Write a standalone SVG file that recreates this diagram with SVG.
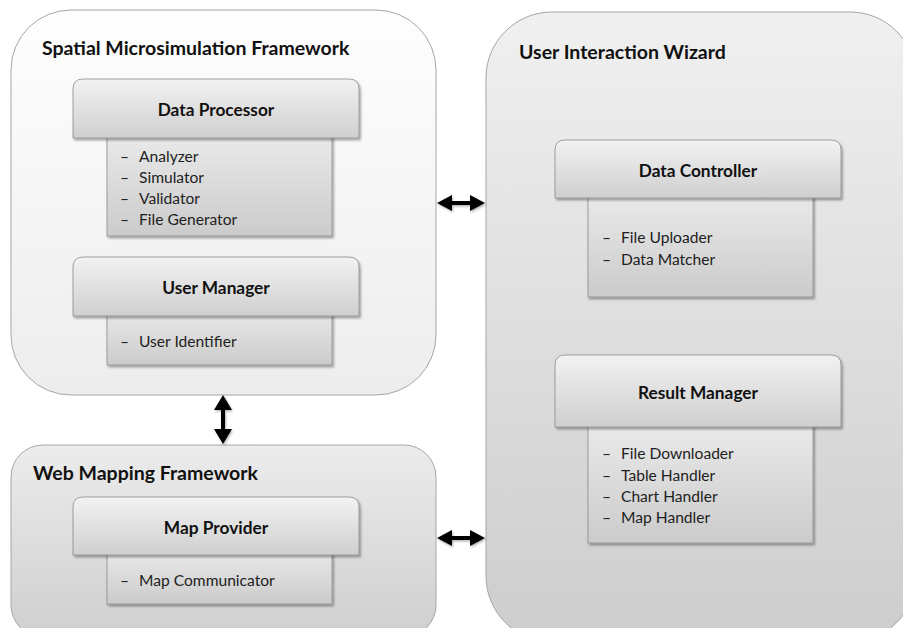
<svg xmlns="http://www.w3.org/2000/svg" width="903" height="628" viewBox="0 0 903 628">
  <defs>
    <linearGradient id="gLight" x1="0" y1="0" x2="0" y2="1">
      <stop offset="0" stop-color="#fefefe"/>
      <stop offset="1" stop-color="#ededed"/>
    </linearGradient>
    <linearGradient id="gMid" x1="0" y1="0" x2="0" y2="1">
      <stop offset="0" stop-color="#ececec"/>
      <stop offset="1" stop-color="#cfcfcf"/>
    </linearGradient>
    <linearGradient id="gTall" x1="0" y1="0" x2="0" y2="1">
      <stop offset="0" stop-color="#f0f0f0"/>
      <stop offset="1" stop-color="#cdcdcd"/>
    </linearGradient>
    <linearGradient id="gHead" x1="0" y1="0" x2="0" y2="1">
      <stop offset="0" stop-color="#f2f2f2"/>
      <stop offset="1" stop-color="#cfcfcf"/>
    </linearGradient>
    <linearGradient id="gBody" x1="0" y1="0" x2="0" y2="1">
      <stop offset="0" stop-color="#ebebeb"/>
      <stop offset="1" stop-color="#cbcbcb"/>
    </linearGradient>
    <filter id="shadow" x="-10%" y="-10%" width="120%" height="130%">
      <feDropShadow dx="1.5" dy="2" stdDeviation="1.2" flood-color="#000" flood-opacity="0.35"/>
    </filter>
    <filter id="arrowShadow" x="-30%" y="-30%" width="160%" height="160%">
      <feDropShadow dx="1" dy="1.5" stdDeviation="1" flood-color="#000" flood-opacity="0.3"/>
    </filter>
  </defs>
  <style>
    .frame { stroke: #a6a6a6; stroke-width: 1; }
    .head { fill: url(#gHead); stroke: #8c8c8c; stroke-width: 0.8; filter: url(#shadow); }
    .body { fill: url(#gBody); stroke: #8c8c8c; stroke-width: 0.8; filter: url(#shadow); }
    .title { font-family: Lato, "Liberation Sans", sans-serif; font-weight: bold; font-size: 19.5px; fill: #111; }
    .hname { font-family: Lato, "Liberation Sans", sans-serif; font-weight: bold; font-size: 17.3px; fill: #111; text-anchor: middle; }
    .item { font-family: Lato, "Liberation Sans", sans-serif; font-size: 15.6px; fill: #1e1e1e; }
    .arrow { fill: #000; filter: url(#arrowShadow); }
  </style>

  <rect width="903" height="628" fill="#ffffff"/>

  <!-- Spatial Microsimulation Framework -->
  <g id="spatial-framework">
    <rect class="frame" x="11" y="10" width="425" height="385" rx="60" fill="url(#gLight)"/>
    <text class="title" x="42" y="55">Spatial Microsimulation Framework</text>
  </g>

  <g id="data-processor">
    <rect class="body" x="107" y="130" width="225" height="106"/>
    <path class="head" d="M73,138 V89 Q73,79 83,79 H349 Q359,79 359,89 V138 Z"/>
    <text class="hname" x="216" y="116">Data Processor</text>
    <text class="item" x="120" y="162">–<tspan x="139">Analyzer</tspan></text>
    <text class="item" x="120" y="183">–<tspan x="139">Simulator</tspan></text>
    <text class="item" x="120" y="204">–<tspan x="139">Validator</tspan></text>
    <text class="item" x="120" y="225">–<tspan x="139">File Generator</tspan></text>
  </g>

  <g id="user-manager">
    <rect class="body" x="107" y="308" width="225" height="57"/>
    <path class="head" d="M73,316 V267 Q73,257 83,257 H349 Q359,257 359,267 V316 Z"/>
    <text class="hname" x="216" y="294">User Manager</text>
    <text class="item" x="120" y="347">–<tspan x="139">User Identifier</tspan></text>
  </g>

  <!-- Web Mapping Framework -->
  <g id="web-mapping-framework">
    <rect class="frame" x="11" y="445" width="425" height="192" rx="32" fill="url(#gMid)"/>
    <text class="title" x="33" y="480">Web Mapping Framework</text>
  </g>

  <g id="map-provider">
    <rect class="body" x="107" y="547" width="225" height="57"/>
    <path class="head" d="M73,555 V507 Q73,497 83,497 H349 Q359,497 359,507 V555 Z"/>
    <text class="hname" x="216" y="534">Map Provider</text>
    <text class="item" x="120" y="586">–<tspan x="139">Map Communicator</tspan></text>
  </g>

  <!-- User Interaction Wizard -->
  <g id="user-interaction-wizard">
    <rect class="frame" x="486" y="12" width="430" height="630" rx="66" fill="url(#gTall)"/>
    <text class="title" x="519" y="59">User Interaction Wizard</text>
  </g>

  <g id="data-controller">
    <rect class="body" x="588" y="190" width="225" height="107"/>
    <path class="head" d="M555,198 V150 Q555,140 565,140 H831 Q841,140 841,150 V198 Z"/>
    <text class="hname" x="698" y="177">Data Controller</text>
    <text class="item" x="602" y="243">–<tspan x="621">File Uploader</tspan></text>
    <text class="item" x="602" y="265">–<tspan x="621">Data Matcher</tspan></text>
  </g>

  <g id="result-manager">
    <rect class="body" x="588" y="419" width="225" height="124"/>
    <path class="head" d="M555,427 V365 Q555,355 565,355 H831 Q841,355 841,365 V427 Z"/>
    <text class="hname" x="698" y="399">Result Manager</text>
    <text class="item" x="602" y="459">–<tspan x="621">File Downloader</tspan></text>
    <text class="item" x="602" y="481">–<tspan x="621">Table Handler</tspan></text>
    <text class="item" x="602" y="502">–<tspan x="621">Chart Handler</tspan></text>
    <text class="item" x="602" y="523">–<tspan x="621">Map Handler</tspan></text>
  </g>

  <!-- Connectors: double-headed arrows -->
  <g id="connectors">
    <path class="arrow" d="M223,395 L232,410 L225,410 L225,429 L232,429 L223,444 L214,429 L221,429 L221,410 L214,410 Z"/>
    <path class="arrow" d="M437,203 L452,195 L452,201 L470,201 L470,195 L485,203 L470,211 L470,205 L452,205 L452,211 Z"/>
    <path class="arrow" d="M437,538 L452,530 L452,536 L470,536 L470,530 L485,538 L470,546 L470,540 L452,540 L452,546 Z"/>
  </g>
</svg>
